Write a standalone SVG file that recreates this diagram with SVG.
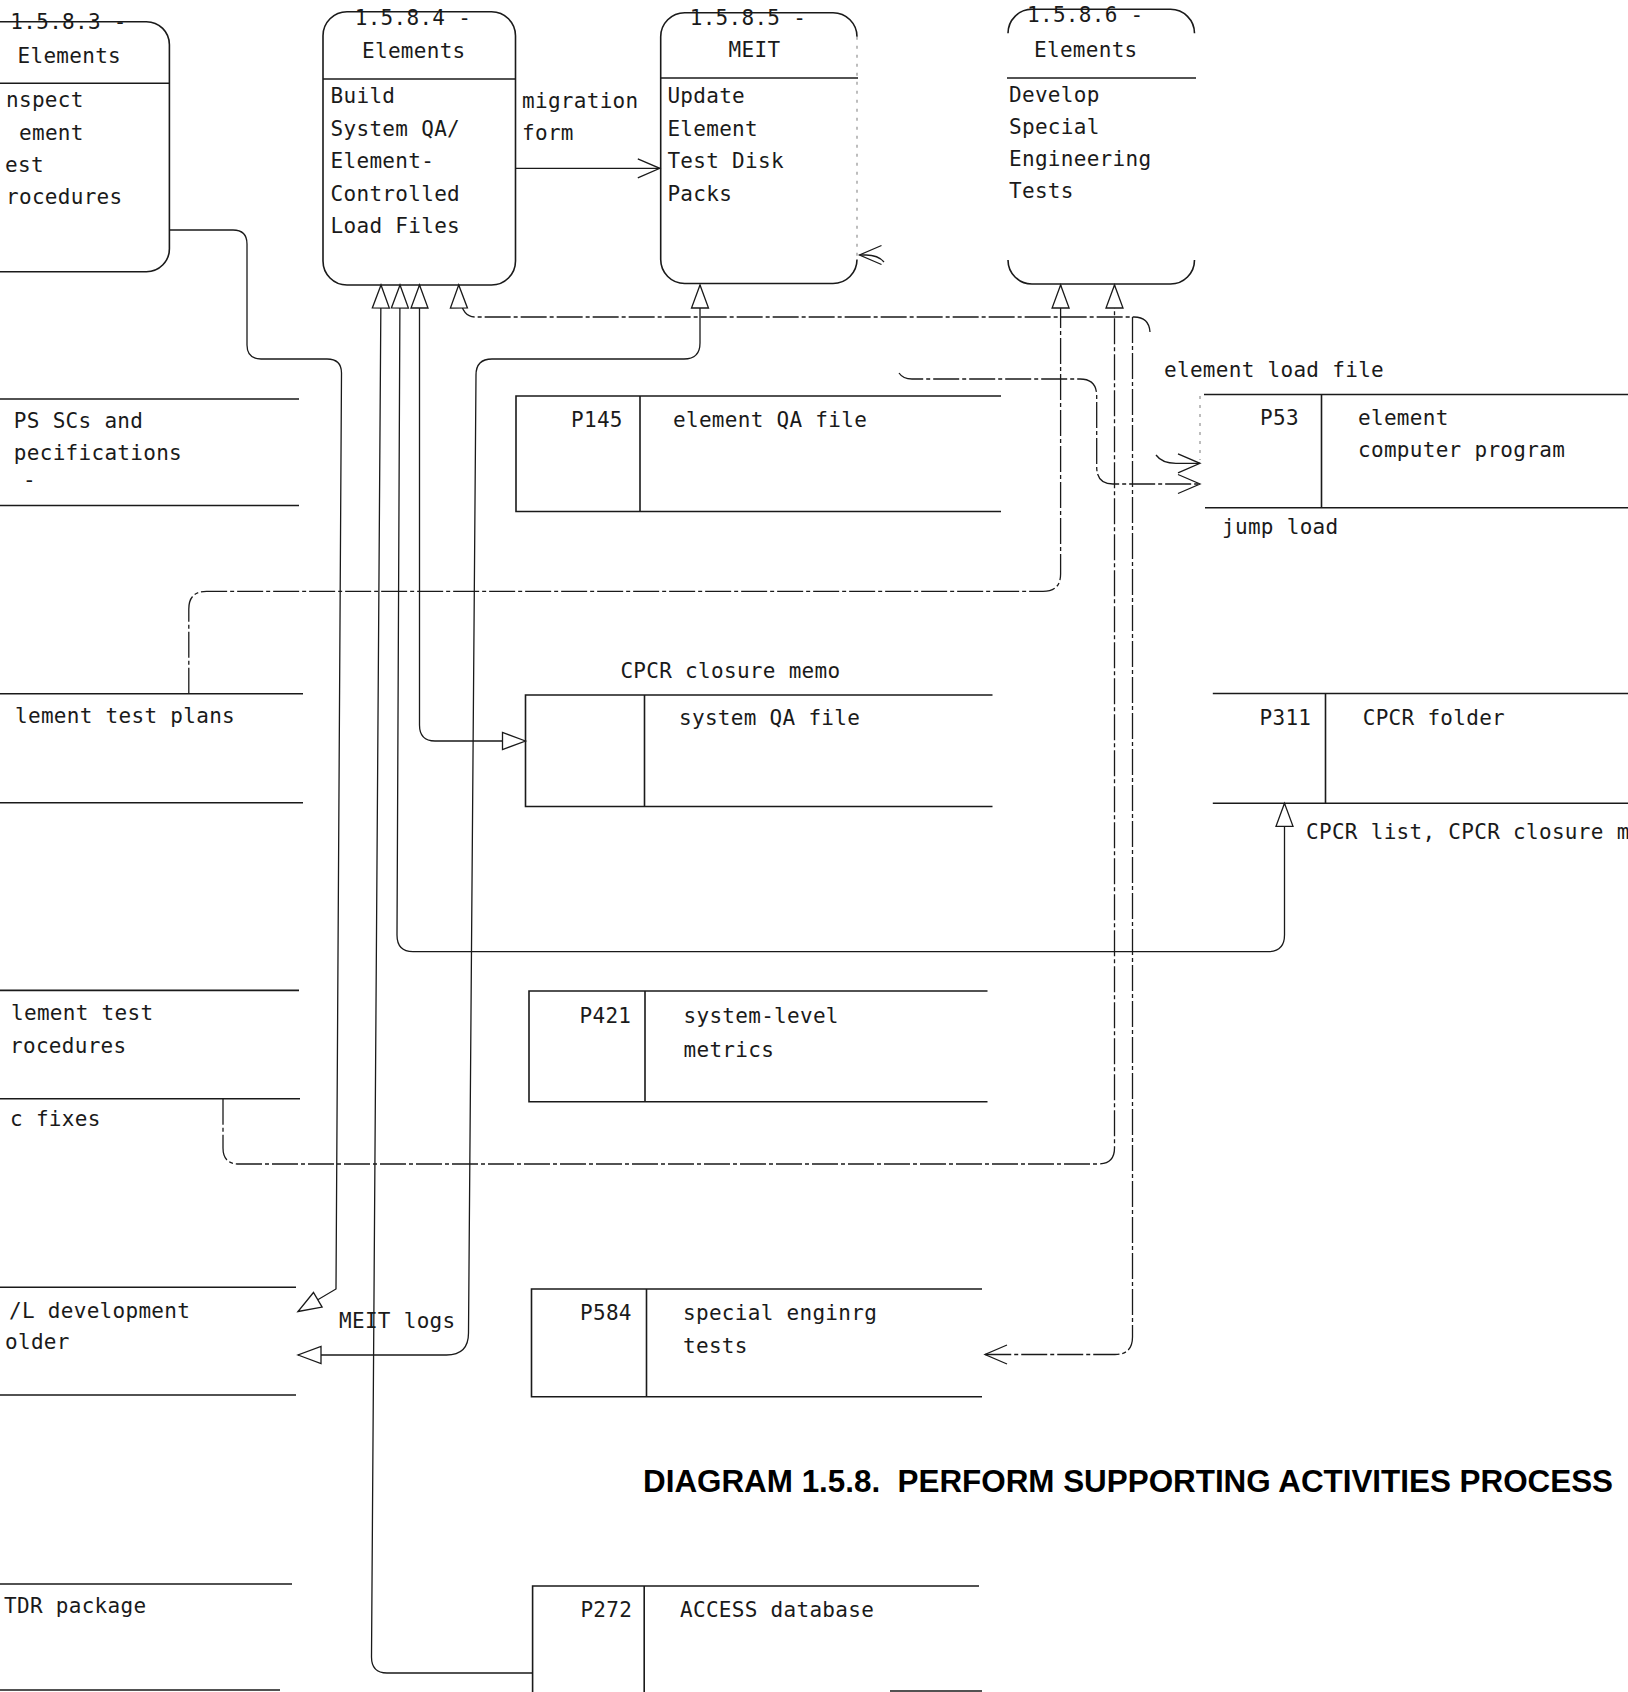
<svg xmlns="http://www.w3.org/2000/svg" width="1628" height="1692" viewBox="0 0 1628 1692">
<defs>
<style>
.bx{fill:none;stroke:#1a1a1a;stroke-width:1.6}
.ln{fill:none;stroke:#1a1a1a;stroke-width:1.3}
.dd{stroke-dasharray:26 3 4 3}
.fa{fill:none;stroke:#888;stroke-width:1.1;stroke-dasharray:3 6}
.t{font-family:"DejaVu Sans Mono","Liberation Mono",monospace;font-size:21px;letter-spacing:0.3px;fill:#1a1a1a}
.ttl{font-family:"Liberation Sans",Arial,sans-serif;font-size:31px;font-weight:bold;fill:#000}
</style>
<marker id="tri" viewBox="-26 -12 30 24" markerWidth="30" markerHeight="24" refX="0" refY="0" orient="auto-start-reverse" markerUnits="userSpaceOnUse"><path d="M0,0 L-23,-8.5 L-23,8.5 Z" fill="#fff" stroke="#1a1a1a" stroke-width="1.3"/></marker>
<marker id="chev" viewBox="-26 -12 30 24" markerWidth="30" markerHeight="24" refX="0" refY="0" orient="auto" markerUnits="userSpaceOnUse"><path d="M-22,-9.5 L0,0 L-22,9.5" fill="none" stroke="#1a1a1a" stroke-width="1.3"/></marker>
</defs>
<rect x="0" y="0" width="1628" height="1692" fill="#fff"/>

<g id="p1583">
<path class="bx" d="M0,21.7 H146.4 A23,23 0 0 1 169.4,44.7 V248.7 A23,23 0 0 1 146.4,271.7 H0"/>
<path class="bx" d="M0,83.3 H169.4"/>
<text class="t" x="10.3" y="29">1.5.8.3 -</text>
<text class="t" x="17.5" y="62.7">Elements</text>
<text class="t" x="6" y="107">nspect</text>
<text class="t" x="19" y="139.5">ement</text>
<text class="t" x="5" y="171.7">est</text>
<text class="t" x="6" y="204">rocedures</text>
</g>

<g id="p1584">
<rect class="bx" x="323" y="11.7" width="192.5" height="273.3" rx="24"/>
<path class="bx" d="M323,79 H515.5"/>
<text class="t" x="354.7" y="24.5">1.5.8.4 -</text>
<text class="t" x="362" y="57.5">Elements</text>
<text class="t" x="330.6" y="103.3">Build</text>
<text class="t" x="330.6" y="135.5">System QA/</text>
<text class="t" x="330.6" y="168">Element-</text>
<text class="t" x="330.6" y="200.5">Controlled</text>
<text class="t" x="330.6" y="233">Load Files</text>
</g>

<g id="p1585">
<path class="bx" d="M857,36.7 A24,24 0 0 0 833,12.7 H684.7 A24,24 0 0 0 660.7,36.7 V259.5 A24,24 0 0 0 684.7,283.5 H833 A24,24 0 0 0 857,259.5"/>
<path class="fa" d="M857,36.7 V259.5"/>
<path class="bx" d="M660.7,78 H858"/>
<text class="t" x="689.7" y="25">1.5.8.5 -</text>
<text class="t" x="728.6" y="57.3">MEIT</text>
<text class="t" x="667.4" y="103.3">Update</text>
<text class="t" x="667.4" y="135.5">Element</text>
<text class="t" x="667.4" y="168">Test Disk</text>
<text class="t" x="667.4" y="200.5">Packs</text>
</g>

<g id="p1586">
<path class="bx" d="M1008,33.3 A24,24 0 0 1 1032,9.3 H1170.5 A24,24 0 0 1 1194.5,33.3"/>
<path class="bx" d="M1008,260 A24,24 0 0 0 1032,284 H1170.5 A24,24 0 0 0 1194.5,260"/>
<path class="bx" d="M1007,78 H1196"/>
<text class="t" x="1027" y="22">1.5.8.6 -</text>
<text class="t" x="1034" y="56.7">Elements</text>
<text class="t" x="1009" y="101.7">Develop</text>
<text class="t" x="1009" y="133.5">Special</text>
<text class="t" x="1009" y="165.5">Engineering</text>
<text class="t" x="1009" y="198">Tests</text>
</g>

<g id="store-dps">
<path class="bx" d="M0,399 H299 M0,505.5 H299"/>
<text class="t" x="13.8" y="428">PS SCs and</text>
<text class="t" x="13.8" y="460">pecifications</text>
<text class="t" x="23" y="487">-</text>
</g>

<g id="store-element-test-plans">
<path class="bx" d="M0,693.8 H303 M0,802.7 H303"/>
<text class="t" x="15" y="723">lement test plans</text>
</g>

<g id="store-element-test-procedures">
<path class="bx" d="M0,990.4 H299 M0,1098.8 H300"/>
<text class="t" x="11" y="1019.5">lement test</text>
<text class="t" x="10" y="1052.5">rocedures</text>
</g>

<g id="store-c-fixes">
<text class="t" x="10" y="1125.5">c fixes</text>
</g>

<g id="store-l-development-folder">
<path class="bx" d="M0,1287.3 H296 M0,1395 H296"/>
<text class="t" x="9" y="1317.5">/L development</text>
<text class="t" x="5" y="1349">older</text>
</g>

<g id="store-tdr-package">
<path class="bx" d="M0,1584 H292 M0,1690 H280"/>
<text class="t" x="4" y="1613">TDR package</text>
</g>

<g id="store-p145">
<path class="bx" d="M1001,396 H516 V511.5 H1001 M640,396 V511.5"/>
<text class="t" x="571" y="426.7">P145</text>
<text class="t" x="673" y="426.7">element QA file</text>
</g>

<g id="store-system-qa-file">
<path class="bx" d="M992.5,695 H525.5 V806.5 H992.5 M644.5,695 V806.5"/>
<text class="t" x="679" y="724.5">system QA file</text>
</g>

<g id="store-p421">
<path class="bx" d="M987.5,991 H529 V1101.7 H987.5 M645,991 V1101.7"/>
<text class="t" x="579.5" y="1023">P421</text>
<text class="t" x="683.5" y="1023">system-level</text>
<text class="t" x="683.5" y="1056.5">metrics</text>
</g>

<g id="store-p584">
<path class="bx" d="M982,1289 H531.5 V1396.7 H982 M646.5,1289 V1396.7"/>
<text class="t" x="580" y="1320">P584</text>
<text class="t" x="683" y="1320">special enginrg</text>
<text class="t" x="683" y="1353">tests</text>
</g>

<g id="store-p272">
<path class="bx" d="M979,1586 H532.6 V1692 M644.2,1586 V1692 M890,1691 H982"/>
<text class="t" x="580.4" y="1616.7">P272</text>
<text class="t" x="680" y="1616.7">ACCESS database</text>
</g>

<g id="store-p53">
<path class="bx" d="M1204,394.5 H1628 M1205,507.7 H1628 M1321.5,394.5 V507.7"/>
<path class="fa" d="M1200,396 V460"/>
<text class="t" x="1260" y="425">P53</text>
<text class="t" x="1358" y="425">element</text>
<text class="t" x="1358" y="457">computer program</text>
</g>

<g id="store-p311">
<path class="bx" d="M1212.8,693.5 H1628 M1212.8,803.3 H1628 M1325.5,693.5 V803.3"/>
<text class="t" x="1259.5" y="725">P311</text>
<text class="t" x="1362.7" y="725">CPCR folder</text>
</g>

<g id="connectors">
<path class="ln" d="M169.4,230 H233 Q247,230 247,244 V345 Q247,359 261,359 H327 Q341.5,359 341.5,373 L336,1289 L298,1311.5" marker-end="url(#tri)"/>
<path class="ln" d="M532.6,1673 H387 Q371.5,1673 371.5,1657 L381,285" marker-end="url(#tri)"/>
<path class="ln" d="M400,285 L397,935 Q397,951.6 413,951.6 H1268 Q1284.5,951.6 1284.5,935 V803.3" marker-start="url(#tri)" marker-end="url(#tri)"/>
<path class="ln" d="M419.5,285 V725 Q419.5,741 435,741 H525.5" marker-start="url(#tri)" marker-end="url(#tri)"/>
<path class="ln" d="M700,285 V343 Q700,359 684,359 H492 Q476,359 476,375 L468.5,1333 Q468.5,1355 446.5,1355 H298" marker-start="url(#tri)" marker-end="url(#tri)"/>
<path class="ln dd" d="M1150,332 Q1149,317 1134,317 H475 Q459,317 458.7,285" marker-end="url(#tri)"/>
<path class="ln dd" d="M188.8,693.8 V609 Q188.8,591.3 206.5,591.3 H1043 Q1060.6,591.3 1060.6,574 V285" marker-end="url(#tri)"/>
<path class="ln dd" d="M223,1098.8 V1148 Q223,1164 239,1164 H1098 Q1114.5,1164 1114.5,1148 V285" marker-end="url(#tri)"/>
<path class="ln dd" d="M1132.5,317 V1337 Q1132.5,1354.5 1115,1354.5 H985" marker-end="url(#chev)"/>
<path class="ln dd" d="M899,373 Q903,379 912,379 H1080 Q1096.7,379 1096.7,396 V467 Q1096.7,484 1113,484 H1200" marker-end="url(#chev)"/>
<path class="ln" d="M1156,455 Q1162,463.3 1176,463.3 H1200" marker-end="url(#chev)"/>
<path class="ln" d="M515.6,168.3 H659.8" marker-end="url(#chev)"/>
<path class="ln" d="M884,262 Q878,255 866,255 H859.5" marker-end="url(#chev)"/>
<text class="t" x="522" y="108.3">migration</text>
<text class="t" x="522" y="140">form</text>
<text class="t" x="1164" y="376.7">element load file</text>
<text class="t" x="1222" y="534">jump load</text>
<text class="t" x="620.4" y="678">CPCR closure memo</text>
<text class="t" x="1306" y="838.5">CPCR list, CPCR closure m</text>
<text class="t" x="339" y="1328">MEIT logs</text>
</g>

<text class="ttl" x="643" y="1492" textLength="970" lengthAdjust="spacingAndGlyphs">DIAGRAM 1.5.8.&#160; PERFORM SUPPORTING ACTIVITIES PROCESS</text>
</svg>
